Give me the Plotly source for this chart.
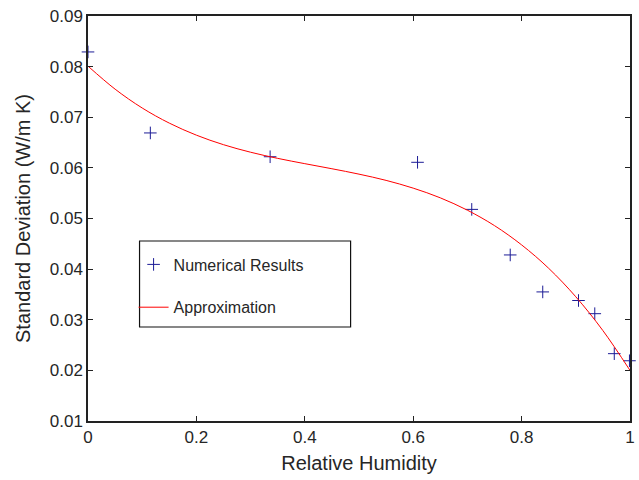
import plotly.graph_objects as go

# Numerical results
rh_points = [0.0, 0.115, 0.336, 0.608, 0.708, 0.779, 0.839, 0.905, 0.935, 0.971, 0.999]
sd_points = [0.0829, 0.0669, 0.0622, 0.0611, 0.0518, 0.0428, 0.0355, 0.0338, 0.0312, 0.0233, 0.0219]

# Approximation curve
rh_curve = [0.0, 0.05, 0.1, 0.15, 0.2, 0.25, 0.3, 0.35, 0.4, 0.45, 0.5,
            0.55, 0.6, 0.65, 0.7, 0.75, 0.8, 0.85, 0.9, 0.95, 1.0]
sd_curve = [0.0801, 0.07555, 0.07183, 0.06884, 0.06646, 0.06458, 0.06309, 0.06188,
            0.06083, 0.05983, 0.05876, 0.05753, 0.05600, 0.05408, 0.05164, 0.04859,
            0.04479, 0.04016, 0.03454, 0.02786, 0.0200]

x_ticks = [0, 0.2, 0.4, 0.6, 0.8, 1]
x_ticklabels = ["0", "0.2", "0.4", "0.6", "0.8", "1"]
y_ticks = [0.01, 0.02, 0.03, 0.04, 0.05, 0.06, 0.07, 0.08, 0.09]
y_ticklabels = ["0.01", "0.02", "0.03", "0.04", "0.05", "0.06", "0.07", "0.08", "0.09"]

FONT = "Liberation Sans, Arial, sans-serif"
TXT = "#262626"

fig = go.Figure()
fig.add_trace(go.Scatter(
    x=rh_points, y=sd_points, mode="markers", name="Numerical Results",
    marker=dict(symbol="cross-thin", size=9, line=dict(color="#1c1c96", width=1)),
    cliponaxis=False, legendgroup="a"))
fig.add_trace(go.Scatter(
    x=rh_curve, y=sd_curve, mode="lines", name="Approximation", line_shape="spline",
    line=dict(color="#ff0000", width=1), legendgroup="b"))

axis_common = dict(showgrid=False, zeroline=False, showline=True, linecolor="#222222",
                   linewidth=1.5, mirror="ticks", ticks="inside", ticklen=5,
                   tickcolor="#222222", tickwidth=1,
                   tickfont=dict(family=FONT, size=17, color=TXT))

fig.update_xaxes(range=[0, 1], tickvals=x_ticks, ticktext=x_ticklabels,
                 title=dict(text="Relative Humidity", standoff=10,
                            font=dict(family=FONT, size=20, color=TXT)),
                 **axis_common)
fig.update_yaxes(range=[0.01, 0.09], tickvals=y_ticks, ticktext=y_ticklabels,
                 title=dict(text="Standard Deviation (W/m K)", standoff=14,
                            font=dict(family=FONT, size=20, color=TXT)),
                 **axis_common)

# legend frame
fig.add_shape(type="rect", xref="paper", yref="paper",
              x0=0.0951, x1=0.4845, y0=0.2321, y1=0.4444,
              line=dict(color="#111111", width=1.2), fillcolor="rgba(0,0,0,0)")

fig.update_layout(
    width=639, height=480,
    margin=dict(l=88, r=4, t=16, b=59),
    plot_bgcolor="white", paper_bgcolor="white",
    legend=dict(x=0.0841, y=0.4284, xanchor="left", yanchor="top",
                borderwidth=0, bgcolor="rgba(0,0,0,0)",
                font=dict(family=FONT, size=16, color=TXT),
                tracegroupgap=19, traceorder="grouped"),
)

fig.write_html("out.html")
